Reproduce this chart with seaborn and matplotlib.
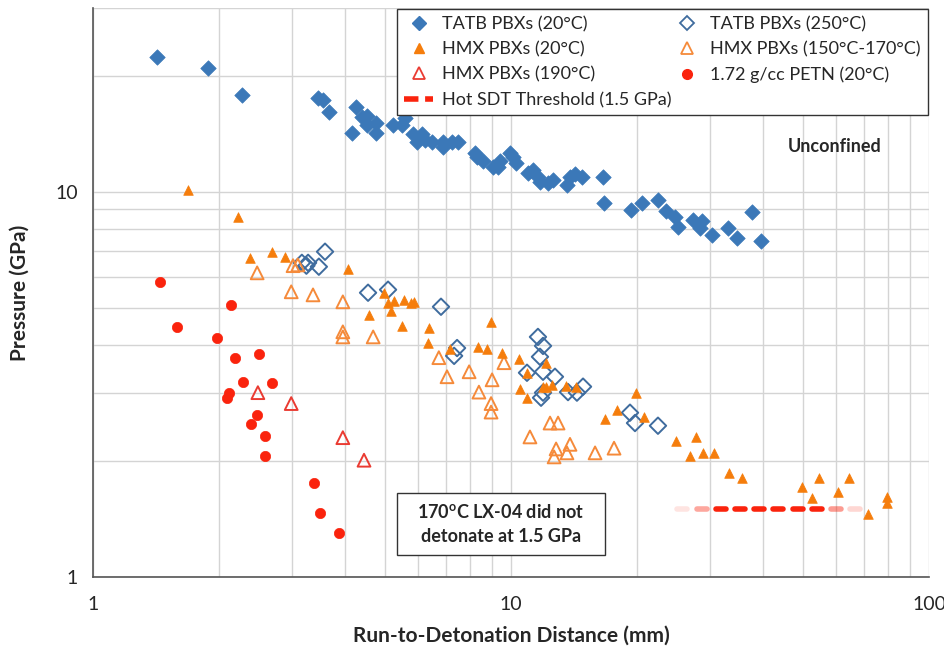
import numpy as np
import pandas as pd
import matplotlib
matplotlib.use("Agg")
import matplotlib.pyplot as plt
from matplotlib.lines import Line2D
from matplotlib.patches import Rectangle
from matplotlib.ticker import LogLocator, NullFormatter, FixedLocator, FixedFormatter
import seaborn as sns

# ---------------- data ----------------
tatb20_x = [1.42, 1.88, 2.27, 3.45, 3.55, 3.67, 4.26, 4.16, 4.40, 4.52, 4.52, 4.75, 4.75,
            5.22, 5.49, 5.58, 5.83, 6.13, 5.96, 6.23, 6.47, 6.88, 6.88, 7.22, 7.47, 8.20,
            8.29, 8.57, 9.06, 9.41, 9.31, 9.95, 10.1, 10.3, 10.98, 11.29, 11.60, 11.73,
            12.26, 12.60, 13.61, 13.84, 14.23, 14.79, 16.6, 16.69, 19.37, 20.58, 22.47,
            23.49, 24.68, 25.08, 27.25, 28.63, 28.32, 30.26, 33.04, 34.73, 37.72, 39.63]
tatb20_y = [22.4, 20.9, 17.8, 17.5, 17.3, 16.1, 16.6, 14.2, 15.6, 15.7, 14.9, 15.1, 14.2,
            14.9, 14.9, 15.5, 14.1, 14.1, 13.5, 13.6, 13.5, 13.5, 13.1, 13.5, 13.5, 12.6,
            12.3, 12.0, 11.6, 12.0, 11.6, 12.6, 12.3, 11.9, 11.2, 11.4, 10.9, 10.6,
            10.55, 10.7, 10.4, 10.9, 11.1, 10.9, 10.9, 9.36, 8.98, 9.36, 9.53,
            8.93, 8.61, 8.11, 8.46, 8.41, 8.06, 7.73, 8.06, 7.60, 8.87, 7.46]

tatb250_x = [3.16, 3.27, 3.24, 3.47, 3.59, 4.55, 5.08, 6.80, 7.43, 7.31, 11.60, 11.93,
             11.73, 10.92, 11.93, 12.74, 11.93, 11.80, 13.69, 14.38, 14.87, 19.26, 19.80, 22.47]
tatb250_y = [6.54, 6.54, 6.43, 6.39, 6.99, 5.47, 5.57, 5.03, 3.93, 3.75, 4.20, 3.98,
             3.73, 3.39, 3.41, 3.31, 3.01, 2.92, 3.02, 3.01, 3.12, 2.67, 2.51, 2.47]

hmx20_x = [1.69, 2.22, 2.38, 2.68, 2.88, 4.07, 4.97, 4.57, 5.08, 5.25, 5.16, 5.55, 5.77,
           5.86, 5.49, 6.37, 6.33, 7.15, 8.96, 8.34, 8.76, 9.52, 10.45, 10.92, 12.13,
           10.51, 10.92, 11.93, 12.13, 12.53, 13.54, 14.31, 19.91, 17.93, 16.79, 20.81,
           24.81, 27.71, 26.81, 28.80, 30.59, 33.22, 35.69, 49.68, 52.49, 54.57, 60.58,
           64.36, 71.47, 79.34, 79.34]
hmx20_y = [10.1, 8.61, 6.74, 6.99, 6.78, 6.31, 5.47, 4.79, 5.15, 5.21, 4.91, 5.24, 5.15,
           5.18, 4.49, 4.43, 4.05, 3.91, 4.60, 3.96, 3.91, 3.82, 3.68, 3.39, 3.60,
           3.08, 2.92, 3.12, 3.12, 3.15, 3.13, 3.12, 3.01, 2.72, 2.57, 2.60,
           2.26, 2.31, 2.06, 2.10, 2.10, 1.86, 1.81, 1.71, 1.60, 1.81, 1.66,
           1.81, 1.46, 1.61, 1.56]

hmx150_x = [2.47, 3.01, 3.09, 2.98, 3.36, 3.96, 3.96, 3.96, 4.68, 6.72, 7.03, 7.94, 8.38,
            9.01, 8.96, 8.96, 9.62, 11.10, 12.40, 12.96, 12.82, 12.68, 13.61, 13.84, 15.89, 17.64]
hmx150_y = [6.16, 6.43, 6.46, 5.50, 5.40, 5.18, 4.33, 4.20, 4.20, 3.71, 3.31, 3.41, 3.02,
            3.25, 2.82, 2.68, 3.60, 2.31, 2.51, 2.51, 2.15, 2.05, 2.10, 2.21, 2.10, 2.16]

hmx190_x = [2.48, 2.98, 3.96, 4.45]
hmx190_y = [3.01, 2.82, 2.30, 2.01]

petn_x = [1.45, 1.59, 1.98, 2.14, 2.19, 2.50, 2.28, 2.68, 2.12, 2.09, 2.47, 2.39, 2.58,
          2.58, 3.38, 3.49, 3.88]
petn_y = [5.84, 4.46, 4.18, 5.09, 3.71, 3.80, 3.21, 3.19, 3.01, 2.92, 2.64, 2.50, 2.32,
          2.06, 1.75, 1.47, 1.30]

threshold_x = [25.0, 72.0]
threshold_p = 1.5

labels = ["TATB PBXs (20°C)", "TATB PBXs (250°C)", "HMX PBXs (20°C)",
          "HMX PBXs (150°C-170°C)", "HMX PBXs (190°C)", "1.72 g/cc PETN (20°C)",
          "Hot SDT Threshold (1.5 GPa)"]

# ---------------- style ----------------
sns.set_style("white")
plt.rcParams["font.family"] = ["Lato", "DejaVu Sans"]

C_BLUE = "#3b78b8"
C_BLUE_OPEN = "#3f6c9e"
C_ORANGE = "#f57d0c"
C_ORANGE_OPEN = "#f58a3a"
C_RED_OPEN = "#ea3b32"
C_RED = "#fa230d"

fig = plt.figure(figsize=(9.44, 6.52), dpi=100)
ax = fig.add_axes([93 / 944, 1 - 577 / 652, (929 - 93) / 944, (577 - 8) / 652])

ax.set_xscale("log")
ax.set_yscale("log")
ax.set_xlim(1, 100)
ax.set_ylim(1, 30)

# grid
ax.xaxis.set_minor_locator(LogLocator(base=10, subs=np.arange(2, 10)))
ax.yaxis.set_minor_locator(LogLocator(base=10, subs=np.arange(2, 10)))
ax.grid(True, which="both", color="#d4d4d4", linewidth=1.0)
ax.set_axisbelow(True)

# series
sns.scatterplot(x=tatb20_x, y=tatb20_y, marker="D", s=62, color=C_BLUE,
                edgecolor=C_BLUE, linewidth=0.5, ax=ax, zorder=3)
sns.scatterplot(x=tatb250_x, y=tatb250_y, marker="D", s=70, facecolor="none",
                edgecolor=C_BLUE_OPEN, linewidth=1.4, ax=ax, zorder=3)
sns.scatterplot(x=hmx20_x, y=hmx20_y, marker="^", s=48, color=C_ORANGE,
                edgecolor=C_ORANGE, linewidth=0.5, ax=ax, zorder=4)
sns.scatterplot(x=hmx150_x, y=hmx150_y, marker="^", s=85, facecolor="none",
                edgecolor=C_ORANGE_OPEN, linewidth=1.4, ax=ax, zorder=3)
sns.scatterplot(x=hmx190_x, y=hmx190_y, marker="^", s=85, facecolor="none",
                edgecolor=C_RED_OPEN, linewidth=1.4, ax=ax, zorder=3)
sns.scatterplot(x=petn_x, y=petn_y, marker="o", s=55, color=C_RED,
                edgecolor=C_RED, linewidth=0.5, ax=ax, zorder=3)

# threshold: dashed line with faded ends
n_dash = 10
edges = np.geomspace(threshold_x[0], threshold_x[1], n_dash + 1)
alphas = np.ones(n_dash)
alphas[0], alphas[1] = 0.12, 0.4
alphas[-1], alphas[-2] = 0.18, 0.45
for i in range(n_dash):
    a, b = edges[i], edges[i + 1]
    seg_end = a * (b / a) ** 0.52
    ax.plot([a, seg_end], [threshold_p, threshold_p], color=C_RED, lw=4.0,
            solid_capstyle="round", alpha=alphas[i], zorder=2)

# axes styling
for side in ["top", "right"]:
    ax.spines[side].set_visible(False)
for side in ["left", "bottom"]:
    ax.spines[side].set_color("#555555")
    ax.spines[side].set_linewidth(1.2)

ax.xaxis.set_major_locator(FixedLocator([1, 10, 100]))
ax.xaxis.set_major_formatter(FixedFormatter(["1", "10", "100"]))
ax.xaxis.set_minor_formatter(NullFormatter())
ax.yaxis.set_major_locator(FixedLocator([1, 10]))
ax.yaxis.set_major_formatter(FixedFormatter(["1", "10"]))
ax.yaxis.set_minor_formatter(NullFormatter())
ax.tick_params(axis="both", which="major", length=6, width=1.0, color="#555555",
               labelsize=14, direction="out")
ax.tick_params(axis="both", which="minor", length=0)
ax.tick_params(axis="x", which="major", pad=8)
ax.tick_params(axis="y", which="major", pad=5)

ax.set_xlabel("Run-to-Detonation Distance (mm)", fontsize=15, fontweight="bold", labelpad=9)
ax.set_ylabel("Pressure (GPa)", fontsize=15, fontweight="bold", labelpad=18)

# annotations
ax.text(0.8876, 0.757, "Unconfined", transform=ax.transAxes, ha="center", va="center",
        fontsize=13, fontweight="bold")
ax.add_patch(Rectangle((0.3636, 0.0387), 0.2488, 0.1089, transform=ax.transAxes,
                       facecolor="white", edgecolor="#333333", linewidth=1.0, zorder=6))
ax.text(0.488, 0.0931, "170$^{\\mathregular{o}}$C LX-04 did not\ndetonate at 1.5 GPa",
        transform=ax.transAxes, ha="center", va="center", fontsize=13,
        fontweight="bold", linespacing=1.45, zorder=7)

# legend
h = [
    Line2D([], [], ls="none", marker="D", ms=7, color=C_BLUE),
    Line2D([], [], ls="none", marker="^", ms=6.5, color=C_ORANGE),
    Line2D([], [], ls="none", marker="^", ms=9, mfc="none", mec=C_RED_OPEN, mew=1.3),
    Line2D([], [], ls=(0, (2.6, 1.2)), lw=4, color=C_RED),
    Line2D([], [], ls="none", marker="D", ms=7.5, mfc="none", mec=C_BLUE_OPEN, mew=1.3),
    Line2D([], [], ls="none", marker="^", ms=9, mfc="none", mec=C_ORANGE_OPEN, mew=1.3),
    Line2D([], [], ls="none", marker="o", ms=7, color=C_RED),
]
l = [labels[0], labels[2], labels[4], labels[6], labels[1], labels[3], labels[5]]
leg = ax.legend(h, l, ncol=2, loc="upper left", bbox_to_anchor=(0.3636, 0.998, 0.635, 0.0),
                mode="expand", fontsize=13, frameon=True, fancybox=False, framealpha=1,
                edgecolor="#333333", handlelength=1.6, handletextpad=0.5,
                columnspacing=1.0, labelspacing=0.5, borderpad=0.4, borderaxespad=0.0)
leg.get_frame().set_linewidth(1.0)
leg.set_zorder(10)

fig.savefig("out.png", dpi=100)
